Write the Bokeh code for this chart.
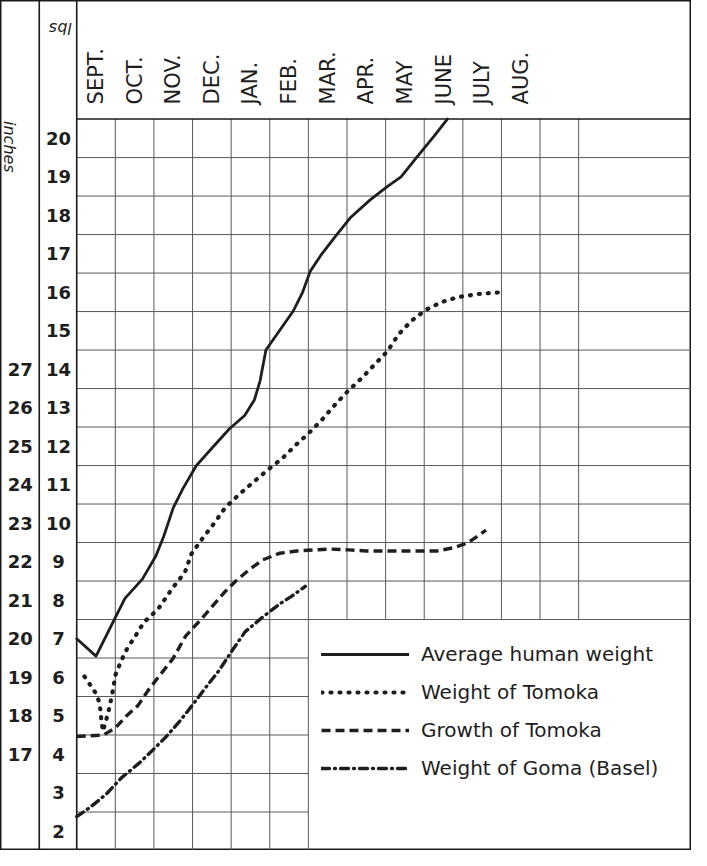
import math
from bokeh.plotting import figure
from bokeh.models import Range1d, Legend, LegendItem
from bokeh.core.properties import value
from bokeh.embed import file_html
from bokeh.resources import INLINE

# ---------------- data ----------------
months = ["SEPT.", "OCT.", "NOV.", "DEC.", "JAN.", "FEB.", "MAR.", "APR.", "MAY", "JUNE", "JULY", "AUG."]
lbs_ticks = list(range(2, 21))
inch_ticks = list(range(17, 28))          # inches aligned with lbs 4..14
inch_offset = 13

human_x = [0.0, 0.5, 0.95, 1.25, 1.7, 2.05, 2.25, 2.5, 2.75, 3.1, 3.5, 3.95, 4.35, 4.6, 4.75, 4.9,
           5.25, 5.6, 5.85, 6.05, 6.35, 6.7, 7.1, 7.6, 8.05, 8.4, 8.8, 9.25, 9.6]
human_y = [7.0, 6.55, 7.45, 8.05, 8.55, 9.15, 9.65, 10.4, 10.9, 11.5, 11.95, 12.45, 12.8, 13.2, 13.7, 14.5,
           15.0, 15.5, 16.0, 16.55, 17.0, 17.45, 17.95, 18.4, 18.75, 19.0, 19.5, 20.05, 20.5]

tomoka_w_x = [0.2, 0.36, 0.51, 0.59, 0.62, 0.64, 0.68, 0.74, 0.82, 0.87, 0.92, 0.96, 1.0, 1.1, 1.2, 1.33,
              1.49, 1.74, 2.1, 2.49, 2.8, 2.97, 3.26, 3.56, 3.85, 4.23, 4.59, 4.95, 5.33, 5.67, 6.0, 6.36,
              6.69, 7.03, 7.38, 7.72, 8.05, 8.33, 8.67, 9.05, 9.46, 9.9, 10.44, 10.97]
tomoka_w_y = [6.02, 5.79, 5.56, 5.33, 5.1, 4.86, 4.6, 4.81, 5.1, 5.33, 5.56, 5.8, 6.05, 6.3, 6.53, 6.79,
              7.02, 7.43, 7.76, 8.33, 8.72, 9.2, 9.61, 10.0, 10.41, 10.77, 11.08, 11.39, 11.69, 12.03, 12.33, 12.7,
              13.08, 13.44, 13.77, 14.13, 14.47, 14.9, 15.26, 15.55, 15.75, 15.88, 15.96, 16.0]

tomoka_g_x = [0.0, 0.69, 1.0, 1.28, 1.59, 1.85, 2.15, 2.49, 2.82, 3.18, 3.51, 3.82, 4.1, 4.46, 4.82,
              5.25, 5.7, 6.15, 6.6, 7.05, 7.5, 7.95, 8.4, 8.85, 9.33, 9.74, 10.13, 10.6]
tomoka_g_y = [4.46, 4.5, 4.68, 4.99, 5.27, 5.66, 6.05, 6.48, 7.07, 7.46, 7.84, 8.2, 8.48, 8.79, 9.05,
              9.22, 9.28, 9.31, 9.33, 9.31, 9.28, 9.28, 9.28, 9.28, 9.28, 9.36, 9.49, 9.82]

goma_x = [0.0, 0.36, 0.77, 1.15, 1.64, 2.03, 2.31, 2.67, 3.0, 3.33, 3.69, 4.03, 4.36, 4.8, 5.25, 5.56, 5.92]
goma_y = [2.38, 2.63, 2.97, 3.38, 3.79, 4.17, 4.45, 4.86, 5.28, 5.72, 6.18, 6.7, 7.18, 7.55, 7.9, 8.1, 8.36]

# ---------------- layout ----------------
X_LEFT, X_RIGHT = -1.974, 15.923
Y_BOT, Y_TOP = 1.5, 23.58
X_SEP = -0.97            # inches | lbs separator
HEADER = max(lbs_ticks) + 0.5
LEG_X, LEG_Y = 6, 7.5    # legend box corner (grid units)
n_cols = len(months) + 1

p = figure(width=691, height=850, x_range=Range1d(X_LEFT, X_RIGHT), y_range=Range1d(Y_BOT, Y_TOP),
           output_backend="svg", toolbar_location=None, min_border=0,
           x_axis_location=None, y_axis_location=None)
p.grid.visible = False
p.outline_line_color = "#1a1a1a"
p.outline_line_width = 2
p.background_fill_color = "white"
p.border_fill_color = "white"

grid_col = "#5a5a5a"

# vertical grid lines
vx0, vy0, vx1, vy1 = [], [], [], []
for i in range(1, n_cols + 1):
    vx0.append(i); vx1.append(i)
    vy0.append(LEG_Y if i > LEG_X else Y_BOT)
    vy1.append(HEADER)
# horizontal grid lines
for v in range(min(lbs_ticks), max(lbs_ticks)):
    yv = v + 0.5
    vx0.append(0); vy0.append(yv); vy1.append(yv)
    vx1.append(LEG_X if yv < LEG_Y else X_RIGHT)
p.segment(x0=vx0, y0=vy0, x1=vx1, y1=vy1, line_color=grid_col, line_width=1)

# structural borders
p.segment(x0=[X_SEP, 0, 0], y0=[Y_BOT, Y_BOT, HEADER], x1=[X_SEP, 0, X_RIGHT], y1=[Y_TOP, Y_TOP, HEADER],
          line_color="#1a1a1a", line_width=1.6)

ink = "#1e1e1e"
r1 = p.line(human_x, human_y, line_color=ink, line_width=2.8, line_join="round", line_cap="round")
r2 = p.line(tomoka_w_x, tomoka_w_y, line_color=ink, line_width=4.2, line_dash="1 8",
            line_cap="round", line_join="round")
r3 = p.line(tomoka_g_x, tomoka_g_y, line_color=ink, line_width=3.4, line_dash="9 5", line_join="round")
r4 = p.line(goma_x, goma_y, line_color=ink, line_width=3.4, line_dash="8 5 1 5", line_join="round",
            line_cap="round")

# month labels
p.text(x=[i + 0.5 for i in range(len(months))], y=[HEADER + 0.38] * len(months), text=months,
       angle=math.pi / 2, text_align="left", text_baseline="middle",
       text_font=value("DejaVu Sans"), text_font_size="21px", text_color=ink)

# lbs labels
p.text(x=[-0.47] * len(lbs_ticks), y=lbs_ticks, text=[str(v) for v in lbs_ticks],
       text_align="center", text_baseline="middle", text_font=value("DejaVu Sans"),
       text_font_style="bold", text_font_size="18px", text_color=ink)
# inches labels
p.text(x=[-1.46] * len(inch_ticks), y=[v - inch_offset for v in inch_ticks], text=[str(v) for v in inch_ticks],
       text_align="center", text_baseline="middle", text_font=value("DejaVu Sans"),
       text_font_style="bold", text_font_size="18px", text_color=ink)

# unit labels
p.text(x=[-1.74], y=[HEADER - 0.05], text=["inches"], angle=-math.pi / 2, text_align="left",
       text_baseline="middle", text_font=value("DejaVu Sans"), text_font_style="italic",
       text_font_size="16px", text_color=ink)
p.text(x=[-0.42], y=[22.86], text=["lbs"], angle=math.pi, text_align="center",
       text_baseline="middle", text_font=value("DejaVu Sans"), text_font_style="italic",
       text_font_size="16px", text_color=ink)

legend = Legend(items=[LegendItem(label="Average human weight", renderers=[r1]),
                       LegendItem(label="Weight of Tomoka", renderers=[r2]),
                       LegendItem(label="Growth of Tomoka", renderers=[r3]),
                       LegendItem(label="Weight of Goma (Basel)", renderers=[r4])],
                location=(321, 70), glyph_width=88, glyph_height=22, label_height=22,
                spacing=14, padding=0, margin=0, label_standoff=12,
                border_line_color=None, background_fill_alpha=0,
                label_text_font="DejaVu Sans", label_text_font_size="20px", label_text_color=ink)
p.add_layout(legend)

open("out.html", "w").write(file_html(p, INLINE))
